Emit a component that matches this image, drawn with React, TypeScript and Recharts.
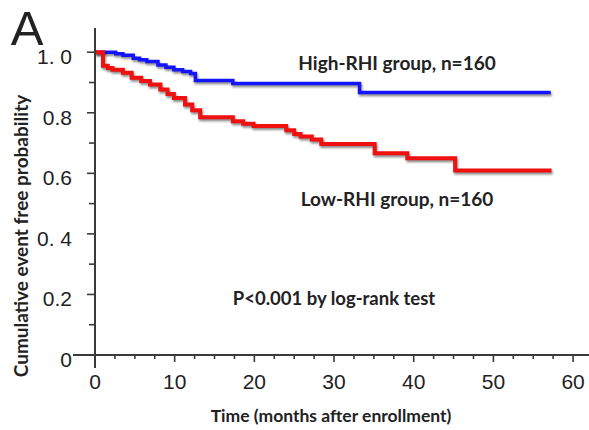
import { LineChart, Line, XAxis, YAxis } from "recharts";

// Kaplan-Meier steps (months, cumulative event free probability)
const HIGH_TIME = [0, 2.6, 3.5, 4.8, 5.6, 6.5, 7.9, 8.9, 9.9, 11.0, 12.0, 12.6, 17.3, 33.2, 57.2];
const HIGH_SURV = [1.0, 0.995, 0.99, 0.98, 0.975, 0.969, 0.958, 0.95, 0.942, 0.936, 0.93, 0.907, 0.897, 0.867, 0.867];

const LOW_TIME = [0, 1.0, 1.6, 2.2, 3.5, 4.6, 5.8, 6.9, 8.2, 9.1, 9.9, 11.3, 12.2, 13.2, 17.3, 18.6, 19.9, 24.0, 25.0, 25.8, 27.2, 28.4, 35.1, 39.2, 45.2, 57.3];
const LOW_SURV = [1.0, 0.955, 0.948, 0.942, 0.932, 0.916, 0.905, 0.893, 0.877, 0.862, 0.849, 0.827, 0.808, 0.785, 0.772, 0.764, 0.756, 0.742, 0.73, 0.722, 0.712, 0.697, 0.666, 0.65, 0.609, 0.609];

const X_TICKS = [0, 2.5, 5, 7.5, 10, 12.5, 15, 17.5, 20, 22.5, 25, 27.5, 30, 32.5, 35, 37.5, 40, 42.5, 45, 47.5, 50, 52.5, 55, 57.5, 60];
const Y_TICKS = [0, 0.1, 0.2, 0.3, 0.4, 0.5, 0.6, 0.7, 0.8, 0.9, 1.0];
const Y_LABELS: Record<string, string> = { "0": "0", "0.2": "0.2", "0.4": "0. 4", "0.6": "0.6", "0.8": "0.8", "1": "1. 0" };

const highData = HIGH_TIME.map((t, i) => ({ t, s: HIGH_SURV[i] }));
const lowData = LOW_TIME.map((t, i) => ({ t, s: LOW_SURV[i] }));

const AXIS = "#3a3a3a";
const TICK_FONT = "'Liberation Sans', Arial, sans-serif";
const TEXT_FONT = "Lato, 'Open Sans', sans-serif";

function XTick(props: any) {
  const { x, y, payload } = props;
  const v = payload.value;
  const major = v % 10 === 0;
  return (
    <g>
      {v === 0 ? (
        <>
          <line x1={x} x2={x} y1={y} y2={y + 13} stroke={AXIS} strokeWidth={2} />
          <line x1={x - 22} x2={x} y1={y} y2={y} stroke={AXIS} strokeWidth={2} />
        </>
      ) : (
        <line x1={x} x2={x} y1={y} y2={y + (major ? 7 : 4)} stroke={AXIS} strokeWidth={1.6} />
      )}
      {major && (
        <text x={x} y={y + 34} textAnchor="middle" fontSize={21} fontFamily={TICK_FONT} fill="#222">
          {v}
        </text>
      )}
    </g>
  );
}

function YTick(props: any) {
  const { x, y, payload } = props;
  const key = String(Math.round(payload.value * 10) / 10);
  const label = Y_LABELS[key];
  const major = label !== undefined;
  if (payload.value === 0) {
    return (
      <text x={x - 23} y={y + 12} textAnchor="end" fontSize={21} fontFamily={TICK_FONT} fill="#222">
        0
      </text>
    );
  }
  return (
    <g>
      <line x1={x - (major ? 8 : 6)} x2={x} y1={y} y2={y} stroke={AXIS} strokeWidth={1.6} />
      {major && (
        <text x={x - 23} y={y + 12} textAnchor="end" fontSize={21} fontFamily={TICK_FONT} fill="#222">
          {label}
        </text>
      )}
    </g>
  );
}

const textStyle: React.CSSProperties = {
  position: "absolute",
  fontFamily: TEXT_FONT,
  fontWeight: 700,
  fontSize: 19,
  color: "#222",
  whiteSpace: "nowrap",
  transform: "translate(-50%, -50%)",
};

export default function App() {
  return (
    <div style={{ position: "absolute", left: 0, top: 0, width: 589, height: 430, background: "#fff" }}>
      <style>{`.km-line { filter: drop-shadow(1.5px 2px 1px rgba(0,0,0,0.45)); }`}</style>
      <LineChart width={589} height={430} margin={{ top: 28, right: 0, bottom: 0, left: 0 }}>
        <XAxis
          type="number"
          dataKey="t"
          domain={[0, 62]}
          ticks={X_TICKS}
          interval={0}
          height={75}
          tickSize={0}
          tickMargin={0}
          tickLine={false}
          axisLine={{ stroke: AXIS, strokeWidth: 2 }}
          tick={<XTick />}
          allowDataOverflow
        />
        <YAxis
          type="number"
          dataKey="s"
          domain={[0, 1.08]}
          ticks={Y_TICKS}
          interval={0}
          width={95}
          tickSize={0}
          tickMargin={0}
          tickLine={false}
          axisLine={{ stroke: AXIS, strokeWidth: 2 }}
          tick={<YTick />}
          allowDataOverflow
        />
        <Line
          data={highData}
          dataKey="s"
          type="stepAfter"
          stroke="#1414ff"
          strokeWidth={3.5}
          dot={false}
          className="km-line"
          isAnimationActive={false}
        />
        <Line
          data={lowData}
          dataKey="s"
          type="stepAfter"
          stroke="#f01010"
          strokeWidth={4}
          dot={false}
          className="km-line"
          isAnimationActive={false}
        />
      </LineChart>
      <div style={{ ...textStyle, left: 27, top: 28, fontFamily: TICK_FONT, fontWeight: 400, fontSize: 49 }}>A</div>
      <div style={{ ...textStyle, left: 397, top: 62 }}>High-RHI group, n=160</div>
      <div style={{ ...textStyle, left: 397, top: 198 }}>Low-RHI group, n=160</div>
      <div style={{ ...textStyle, left: 334, top: 298, fontSize: 18.5 }}>P&lt;0.001 by log-rank test</div>
      <div style={{ ...textStyle, left: 331, top: 415, fontSize: 17.5 }}>Time (months after enrollment)</div>
      <div style={{ ...textStyle, left: 20, top: 236, transform: "translate(-50%, -50%) rotate(-90deg)" }}>
        Cumulative event free probability
      </div>
    </div>
  );
}
